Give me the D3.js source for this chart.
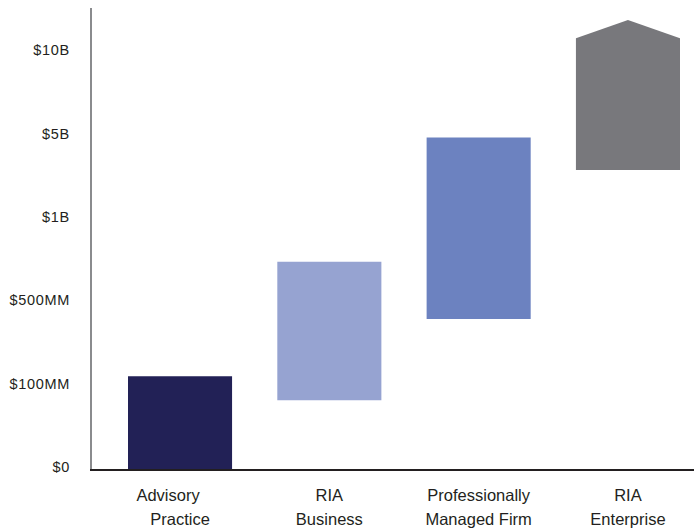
<!DOCTYPE html>
<html>
<head>
<meta charset="utf-8">
<script src="https://cdn.jsdelivr.net/npm/d3@7"></script>
<style>
  html, body { margin: 0; padding: 0; background: #fff; }
  svg { display: block; }
  text { font-family: "Liberation Sans", Arial, sans-serif; fill: #231f20; }
</style>
</head>
<body>
<svg id="chart" width="694" height="529"></svg>
<script>
// ---- data ----
const categories = ["Advisory Practice", "RIA Business", "Professionally Managed Firm", "RIA Enterprise"];
const categoryLines = [["Advisory", "Practice"], ["RIA", "Business"], ["Professionally", "Managed Firm"], ["RIA", "Enterprise"]];
// AUM ranges in $MM
const rangeLow  = [0, 80, 410, 3250];
const rangeHigh = [135, 730, 4800, 10700];
// peak of the open-ended (arrow-topped) bar, $MM; null when flat top
const rangePeak = [null, null, null, 11800];
const barColors = ["#222156", "#96a3d1", "#6c82c0", "#78787c"];
const tickValues = [0, 100, 500, 1000, 5000, 10000];
const tickLabels = ["$0", "$100MM", "$500MM", "$1B", "$5B", "$10B"];

// ---- layout ----
const svg = d3.select("#chart");
const axisX = 91, axisBottom = 470, axisTop = 8;

// piecewise y scale: ticks evenly spaced
const yPos = tickValues.map((d, i) => 467 - i * 83.4);
const y = d3.scaleLinear().domain(tickValues).range(yPos);

const x = d3.scaleBand().domain(categories).range([128, 680]).paddingInner(0.303).paddingOuter(0);

// bars
const data = categories.map((c, i) => ({ c, lo: rangeLow[i], hi: rangeHigh[i], peak: rangePeak[i], color: barColors[i] }));

svg.append("g").selectAll("path").data(data).join("path")
  .attr("fill", d => d.color)
  .attr("d", d => {
    const x0 = x(d.c), x1 = x0 + x.bandwidth();
    const yb = d.lo === 0 ? axisBottom : y(d.lo);
    const yt = y(d.hi);
    const p = d3.path();
    p.moveTo(x0, yb);
    p.lineTo(x0, yt);
    if (d.peak != null) p.lineTo((x0 + x1) / 2, y(d.peak));
    p.lineTo(x1, yt);
    p.lineTo(x1, yb);
    p.closePath();
    return p.toString();
  });

// y axis labels
const yAxis = d3.axisLeft(y).tickValues(tickValues).tickFormat((d, i) => tickLabels[i]).tickSize(0).tickPadding(21);
const gy = svg.append("g").attr("transform", `translate(${axisX},0)`).call(yAxis);
gy.select(".domain").remove();
gy.selectAll("text").attr("font-size", 14.5).attr("letter-spacing", "0.7px")
  .style("font-family", "'Liberation Sans', Arial, sans-serif").attr("fill", "#231f20");

// axis lines
svg.append("line").attr("x1", axisX).attr("x2", axisX).attr("y1", axisTop).attr("y2", axisBottom)
  .attr("stroke", "#6d6e71").attr("stroke-width", 1.6);
svg.append("line").attr("x1", axisX - 1).attr("x2", 694).attr("y1", axisBottom).attr("y2", axisBottom)
  .attr("stroke", "#231f20").attr("stroke-width", 1.8);

// category labels (first line of first label sits slightly left, as in the original)
const gx = svg.append("g");
categories.forEach((c, i) => {
  const cx = x(c) + x.bandwidth() / 2;
  const t = gx.append("text").attr("text-anchor", "middle").attr("font-size", 16.5);
  categoryLines[i].forEach((line, j) => {
    const shift = (i === 0 && j === 0) ? -12 : 0;
    t.append("tspan").attr("x", cx + shift).attr("y", 501 + j * 23.5).text(line);
  });
});
</script>
</body>
</html>
